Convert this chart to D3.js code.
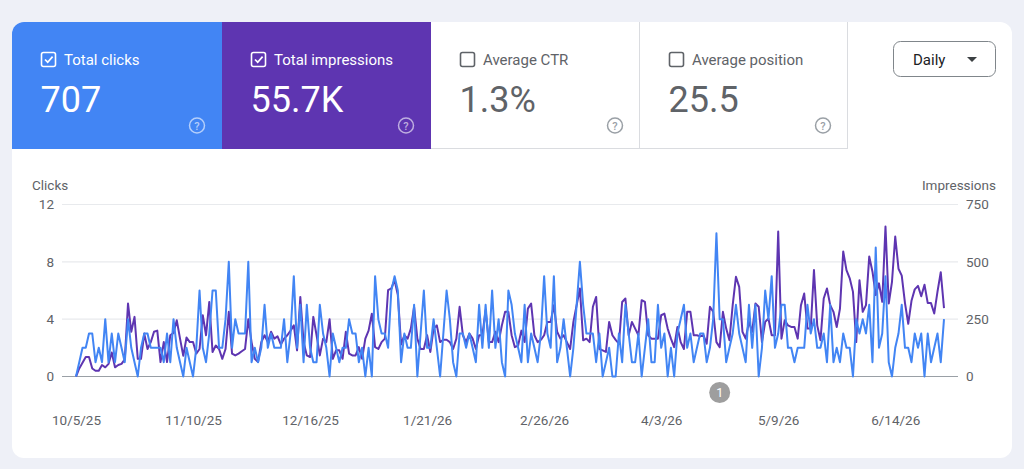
<!DOCTYPE html>
<html><head><meta charset="utf-8">
<script src="https://cdn.jsdelivr.net/npm/d3@7/dist/d3.min.js"></script>
<style>
html,body{margin:0;padding:0;background:#eef0f7;}
svg{display:block;font-family:Roboto,"Noto Sans",sans-serif;}
</style></head>
<body>
<svg id="c" width="1024" height="469"></svg>
<script>
// ---- data ----
const startDate = new Date(2025, 9, 5);
const clicks = [
0,1,2,2,3,3,1,2,1,4,1,3,1,3,2,1,4,2,1,0,2,3,3,2,2,2,2,1,3,1,4,
2,1,0,2,1,0,2,6,2,1,3,6,6,2,2,4,8,2,4,3,3,3,8,1,2,1,2,5,2,3,2,2,2,4,
1,3,7,2,5,1,5,2,1,1,5,3,2,0,3,2,1,2,2,4,3,3,1,2,0,2,0,7,4,3,3,2,6,7,
6,1,3,2,2,5,0,3,6,2,2,4,2,0,3,6,4,1,0,3,3,2,3,2,1,5,2,5,2,6,2,4,1,0,
6,5,3,2,1,5,1,3,2,1,3,7,3,2,7,1,2,4,2,0,2,5,8,5,3,3,3,1,3,0,1,2,0,0,
3,1,5,3,1,1,3,0,2,4,1,1,5,2,3,0,2,0,3,4,5,2,3,1,2,3,3,1,2,4,10,4,4,
1,2,3,5,3,2,1,5,2,5,0,2,6,4,7,2,3,5,5,2,2,1,2,2,2,5,3,4,2,2,3,1,
5,1,2,1,3,2,2,0,4,3,4,3,5,1,9,2,3,7,1,0,2,3,5,2,2,1,3,2,3,0,3,1,2,3,1,4
];
const impressions = [
0,35,60,85,85,35,25,25,50,40,55,105,40,50,55,75,318,195,260,77,77,187,120,150,195,200,63,150,63,180,190,
245,165,90,170,150,150,100,120,267,180,325,107,135,120,77,120,282,100,92,100,110,120,250,150,77,63,150,180,150,195,165,175,140,165,
180,200,223,114,347,150,92,85,260,180,92,165,150,250,77,114,114,77,195,100,92,92,128,77,165,200,274,128,120,150,165,377,384,420,
355,140,180,165,209,304,165,120,120,180,107,209,223,150,160,160,150,120,165,304,180,150,187,165,120,180,180,289,150,150,195,150,223,282,
282,180,128,135,200,150,296,318,180,150,160,180,238,238,311,195,165,180,150,120,238,311,384,158,165,150,304,347,120,114,107,238,180,160,
143,325,340,180,238,209,180,333,325,180,165,165,165,267,274,209,165,128,216,150,120,282,282,180,180,175,180,143,304,282,150,128,282,
209,158,311,435,391,195,165,238,195,318,304,150,238,253,180,180,632,165,245,223,216,216,165,311,362,209,209,464,223,158,340,384,
311,282,216,296,545,464,428,369,150,420,282,311,523,457,355,406,326,654,318,413,610,470,440,320,230,330,380,395,350,400,320,320,275,370,455,298
];
const xTickDates = ["2025-10-05","2025-11-10","2025-12-16","2026-01-21","2026-02-26","2026-04-03","2026-05-09","2026-06-14"];
const xTickLabels = ["10/5/25","11/10/25","12/16/25","1/21/26","2/26/26","4/3/26","5/9/26","6/14/26"];
const clickTicks = [0,4,8,12];
const imprTicks = [0,250,500,750];
const metricNames = ["Total clicks","Total impressions","Average CTR","Average position"];
const metricValues = ["707","55.7K","1.3%","25.5"];
const metricSelected = [true,true,false,false];
const annotations = [{date:"2026-04-21", label:"1"}];

// ---- build ----
const svg = d3.select("#c");
const parse = d3.timeParse("%Y-%m-%d");
const dates = clicks.map((_, i) => d3.timeDay.offset(startDate, i));

svg.append("rect").attr("width",1024).attr("height",469).attr("fill","#eef0f7");
const defs = svg.append("defs");
defs.append("clipPath").attr("id","cardClip").append("rect")
  .attr("x",12).attr("y",22).attr("width",1000).attr("height",436).attr("rx",12);
svg.append("rect").attr("x",12).attr("y",22).attr("width",1000).attr("height",436).attr("rx",12).attr("fill","#fff");

// metric cards
const cardX = [12,222,431,640], cardW = [210,209,209,208];
const cardFill = ["#4285f4","#5e35b1","#fff","#fff"];
const cg = svg.append("g").attr("clip-path","url(#cardClip)");
metricNames.forEach((name,i)=>{
  const g = cg.append("g").attr("transform",`translate(${cardX[i]},22)`);
  g.append("rect").attr("width",cardW[i]).attr("height",127).attr("fill",cardFill[i]);
  const sel = metricSelected[i];
  const fg = sel ? "#fff" : "#5f6368";
  if(!sel){
    g.append("line").attr("x1",cardW[i]-0.5).attr("x2",cardW[i]-0.5).attr("y1",0).attr("y2",127).attr("stroke","#dadce0");
    g.append("line").attr("x1",0).attr("x2",cardW[i]).attr("y1",126.5).attr("y2",126.5).attr("stroke","#dadce0");
  }
  // checkbox
  g.append("rect").attr("x",29.5).attr("y",30.5).attr("width",14).attr("height",14).attr("rx",2)
    .attr("fill","none").attr("stroke",fg).attr("stroke-width",1.6);
  if(sel){
    g.append("path").attr("d","M33 37.5 L35.7 40.2 L40.6 34.6").attr("fill","none")
      .attr("stroke","#fff").attr("stroke-width",1.7);
  }
  g.append("text").attr("x",52).attr("y",43).attr("font-size",15).attr("fill",fg).text(name);
  g.append("text").attr("x",28.5).attr("y",90).attr("font-size",36).attr("fill",fg).text(metricValues[i]);
  // help icon
  const hx = cardW[i]-25, hy = 103.5;
  const hc = sel ? "rgba(255,255,255,0.6)" : "#9aa0a6";
  g.append("circle").attr("cx",hx).attr("cy",hy).attr("r",7.5).attr("fill","none").attr("stroke",hc).attr("stroke-width",1.5);
  g.append("text").attr("x",hx).attr("y",hy+4).attr("text-anchor","middle").attr("font-size",11).attr("font-weight",500).attr("fill",hc).text("?");
});

// Daily button
svg.append("rect").attr("x",893.5).attr("y",41.5).attr("width",102).attr("height",35).attr("rx",7)
  .attr("fill","#fff").attr("stroke","#80868b").attr("stroke-width",1);
svg.append("text").attr("x",913).attr("y",64.5).attr("font-size",15).attr("fill","#202124").text("Daily");
svg.append("path").attr("d","M967 57 L977 57 L972 62 Z").attr("fill","#3c4043");

// chart scales
const x = d3.scaleTime().domain([dates[0], dates[dates.length-1]]).range([76, 944]);
const yC = d3.scaleLinear().domain([0,12]).range([376.5, 204.5]);
const yI = d3.scaleLinear().domain([0,750]).range([376.5, 204.5]);

// gridlines
svg.append("g").selectAll("line").data(clickTicks).join("line")
  .attr("x1",62).attr("x2",958)
  .attr("y1",d=>yC(d)).attr("y2",d=>yC(d))
  .attr("stroke",d=>d===0?"#9aa0a6":"#e8eaed").attr("stroke-width",1.2);

// axes
const axL = svg.append("g").attr("transform","translate(56,0)")
  .call(d3.axisLeft(yC).tickValues(clickTicks).tickSize(0).tickPadding(2));
const axR = svg.append("g").attr("transform","translate(964,0)")
  .call(d3.axisRight(yI).tickValues(imprTicks).tickSize(0).tickPadding(2));
const axB = svg.append("g").attr("transform","translate(0,415)")
  .call(d3.axisBottom(x).tickValues(xTickDates.map(parse)).tickSize(0).tickPadding(0)
    .tickFormat((d,i)=>xTickLabels[i]));
[axL,axR,axB].forEach(a=>{
  a.select(".domain").remove();
  a.selectAll("text").attr("font-size",13.5).attr("fill","#5f6368").attr("font-family","Roboto");
});
axB.selectAll("text").attr("dy","0.71em");

svg.append("text").attr("x",32).attr("y",190).attr("font-size",13.5).attr("fill","#5f6368").text("Clicks");
svg.append("text").attr("x",996).attr("y",190).attr("text-anchor","end").attr("font-size",13.5).attr("fill","#5f6368").text("Impressions");

// lines
const lineI = d3.line().x((d,i)=>x(dates[i])).y(d=>yI(d));
const lineC = d3.line().x((d,i)=>x(dates[i])).y(d=>yC(d));
svg.append("path").datum(impressions).attr("d",lineI).attr("fill","none")
  .attr("stroke","#5e35b1").attr("stroke-width",2).attr("stroke-linejoin","round");
svg.append("path").datum(clicks).attr("d",lineC).attr("fill","none")
  .attr("stroke","#4285f4").attr("stroke-width",2).attr("stroke-linejoin","round");

// annotation
annotations.forEach(a=>{
  const ax = x(parse(a.date));
  svg.append("circle").attr("cx",ax).attr("cy",392.5).attr("r",10.5).attr("fill","#9e9e9e");
  svg.append("text").attr("x",ax).attr("y",397).attr("text-anchor","middle").attr("font-size",12.5).attr("fill","#fff").text(a.label);
});
</script>
</body></html>
